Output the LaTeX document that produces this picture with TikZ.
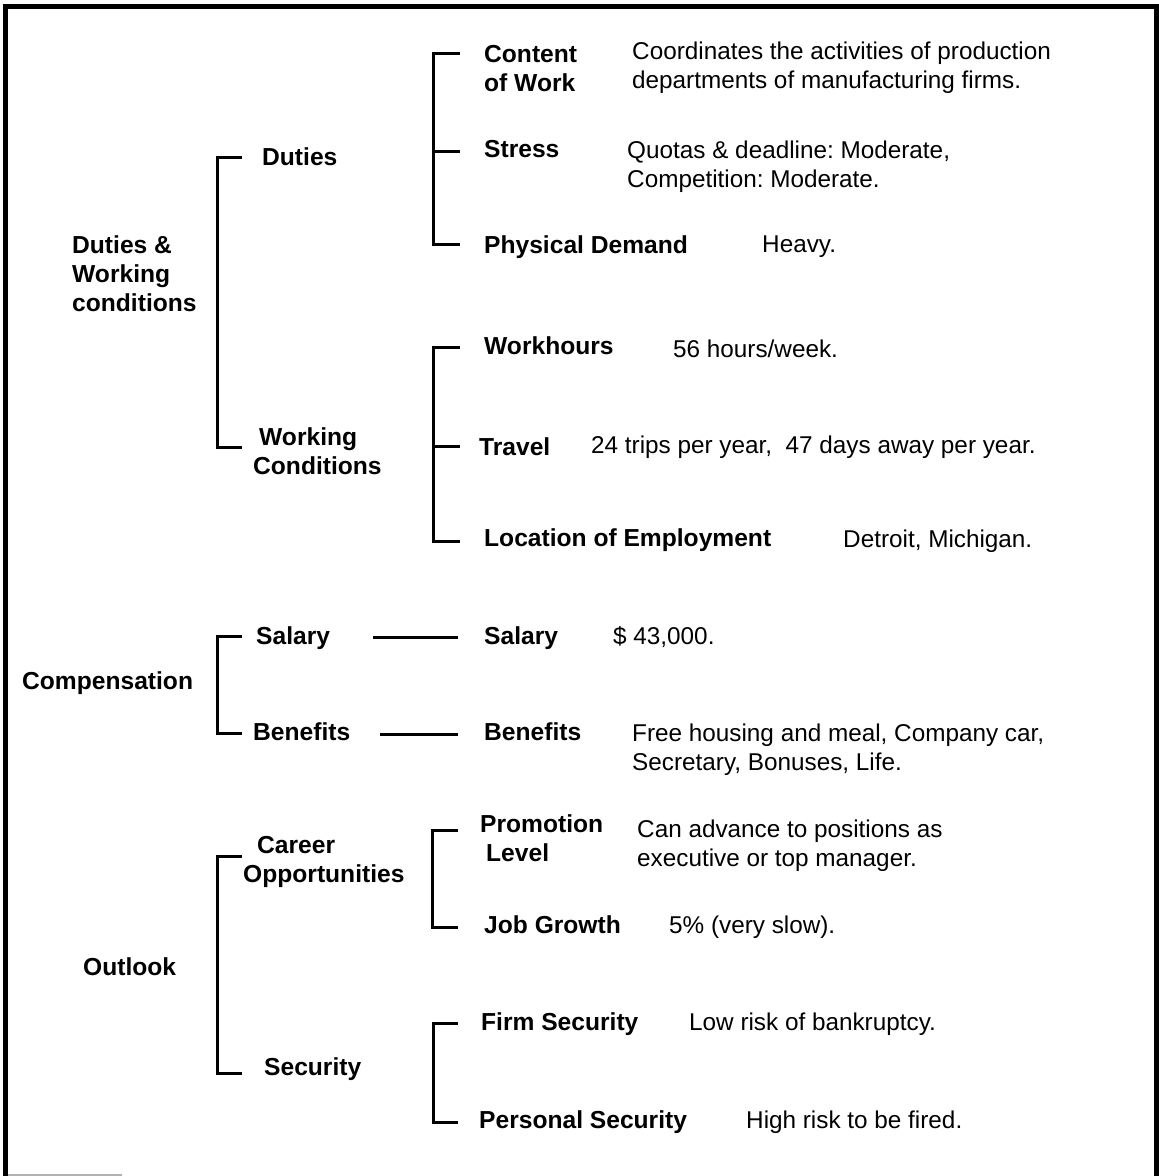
\documentclass[tikz,border=0pt]{standalone}
\usepackage{fontspec}
\setmainfont{Liberation Sans}
\frenchspacing
\begin{document}
\begin{tikzpicture}[x=1pt,y=-1pt,
  txt/.style={inner sep=0pt,anchor=base west,align=left,font=\fontsize{24.3}{29}\selectfont},
  lbl/.style={txt,font=\fontsize{24.6}{29}\selectfont\bfseries},
  desc/.style={txt},
  br/.style={line width=3pt,line cap=butt,line join=miter},
  frame/.style={line width=5.5pt,line join=miter}]
\useasboundingbox (0,0) rectangle (1159,1176);
\fill[white] (0,0) rectangle (1159,1176);
% frame
\draw[frame] (5.5,1176) -- (5.5,6.5) -- (1157,6.5) -- (1157,1176);
\draw[gray!60,line width=2pt] (8,1174.5) -- (122,1174.5);

% (multi-line nodes: base anchor is the baseline of the last line)
% ---- Duties & Working conditions
\node[lbl] (dwc) at (72,311.5) {Duties \&\\Working\\conditions};
\node[lbl] (duties) at (262,165) {Duties};
\node[lbl] (wc) at (253,474) {\hspace*{6pt}Working\\Conditions};
\coordinate (b1a) at (242,157); \coordinate (b1b) at (242,447);
\draw[br] (b1a) -- (217,157) -- (217,447) -- (b1b);

\node[lbl] (cow) at (484,91) {Content\\of Work};
\node[lbl] (stress) at (484,157) {Stress};
\node[lbl] (phys) at (484,253) {Physical Demand};
\coordinate (b2a) at (460,53); \coordinate (b2b) at (460,151); \coordinate (b2c) at (460,244);
\draw[br] (b2a) -- (433,53) -- (433,244) -- (b2c);
\draw[br] (433,151) -- (b2b);

\node[desc] (dcow) at (632,88.5) {Coordinates the activities of production\\departments of manufacturing firms.};
\node[desc] (dstress) at (627,187) {Quotas \& deadline: Moderate,\\Competition: Moderate.};
\node[desc] (dphys) at (762,252) {Heavy.};

\node[lbl] (wh) at (484,354) {Workhours};
\node[lbl] (travel) at (479,455) {Travel};
\node[lbl] (loc) at (484,546) {Location of Employment};
\coordinate (b3a) at (460,347.5); \coordinate (b3b) at (460,446); \coordinate (b3c) at (460,541);
\draw[br] (b3a) -- (433,347.5) -- (433,541) -- (b3c);
\draw[br] (433,446) -- (b3b);

\node[desc] (dwh) at (673,357) {56 hours/week.};
\node[desc] (dtravel) at (591,453) {24 trips per year,\ \ 47 days away per year.};
\node[desc] (dloc) at (843,547) {Detroit, Michigan.};

% ---- Compensation
\node[lbl] (comp) at (22,689.5) {Compensation};
\node[lbl] (salL) at (256,644.5) {Salary};
\node[lbl] (benL) at (253,740.5) {Benefits};
\coordinate (b4a) at (242,636); \coordinate (b4b) at (242,733);
\draw[br] (b4a) -- (217,636) -- (217,733) -- (b4b);

\node[lbl] (salR) at (484,644.5) {Salary};
\node[lbl] (benR) at (484,740.5) {Benefits};
\coordinate (s1) at (373,637); \coordinate (s2) at (458,637);
\coordinate (bf1) at (380,734); \coordinate (bf2) at (458,734);
\draw[br] (s1) -- (s2);
\draw[br] (bf1) -- (bf2);

\node[desc] (dsal) at (613,644) {\$ 43,000.};
\node[desc] (dben) at (632,770.5) {Free housing and meal, Company car,\\Secretary, Bonuses, Life.};

% ---- Outlook
\node[lbl] (outlook) at (83,975.5) {Outlook};
\node[lbl] (career) at (243,882.5) {\hspace*{14pt}Career\\Opportunities};
\node[lbl] (sec) at (264,1075.5) {Security};
\coordinate (b5a) at (242,856); \coordinate (b5b) at (242,1073);
\draw[br] (b5a) -- (217,856) -- (217,1073) -- (b5b);

\node[lbl] (promo) at (480,861.5) {Promotion\\\hspace*{6pt}Level};
\node[lbl] (jg) at (484,933.5) {Job Growth};
\coordinate (b6a) at (458,830); \coordinate (b6b) at (458,927);
\draw[br] (b6a) -- (432,830) -- (432,927) -- (b6b);

\node[desc] (dpromo) at (637,866) {Can advance to positions as\\executive or top manager.};
\node[desc] (djg) at (669,933.5) {5\% (very slow).};

\node[lbl] (firm) at (481,1030.5) {Firm Security};
\node[lbl] (pers) at (479,1128.5) {Personal Security};
\coordinate (b7a) at (458,1023); \coordinate (b7b) at (458,1122);
\draw[br] (b7a) -- (433,1023) -- (433,1122) -- (b7b);

\node[desc] (dfirm) at (689,1030) {Low risk of bankruptcy.};
\node[desc] (dpers) at (746,1128) {High risk to be fired.};
\end{tikzpicture}
\end{document}
